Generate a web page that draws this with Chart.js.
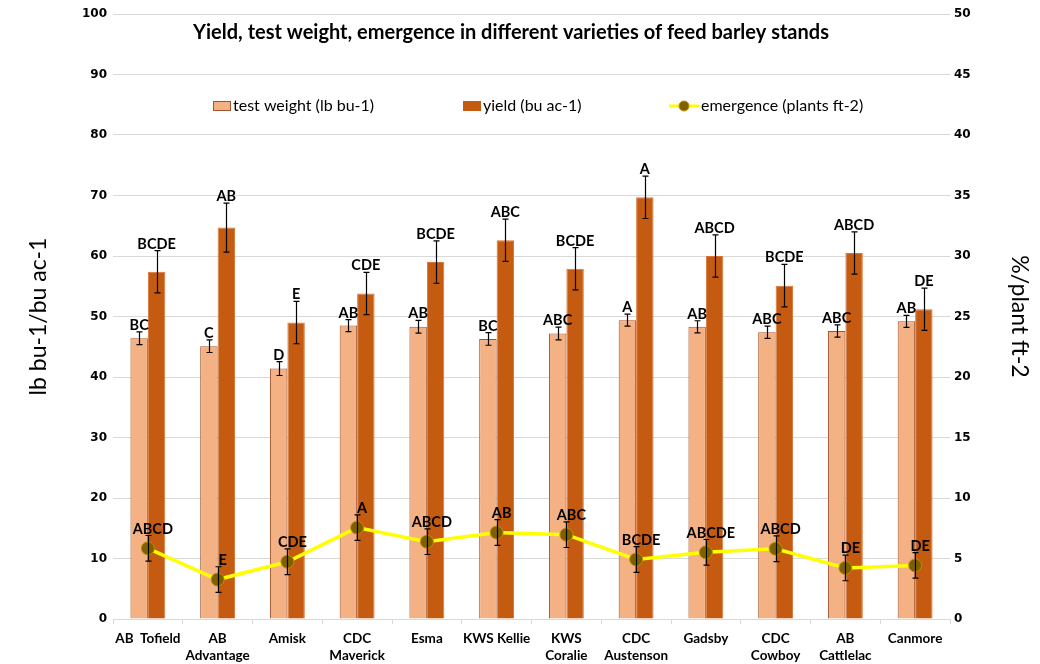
<!DOCTYPE html>
<html>
<head>
<meta charset="utf-8">
<script src="https://cdn.jsdelivr.net/npm/chart.js@4/dist/chart.umd.min.js"></script>
<style>
  html, body { margin: 0; padding: 0; background: #fff; }
  #wrap { width: 1040px; height: 664px; position: relative; }
</style>
</head>
<body>
<div id="wrap"><canvas id="c" width="1040" height="664"></canvas></div>
<script>
const categories = ['AB  Tofield', ['AB', 'Advantage'], 'Amisk', ['CDC', 'Maverick'], 'Esma', 'KWS Kellie', ['KWS', 'Coralie'], ['CDC', 'Austenson'], 'Gadsby', ['CDC', 'Cowboy'], ['AB', 'Cattlelac'], 'Canmore'];

const testWeight    = [46.4, 45.1, 41.4, 48.5, 48.3, 46.3, 47.2, 49.4, 48.3, 47.4, 47.6, 49.2];
const testWeightErr = [1.05, 1.05, 1.15, 1.0, 1.05, 1.05, 1.05, 1.0, 1.0, 1.0, 1.0, 1.0];
const testWeightLetters = ['BC', 'C', 'D', 'AB', 'AB', 'BC', 'ABC', 'A', 'AB', 'ABC', 'ABC', 'AB'];

const yieldVals   = [57.4, 64.7, 49.0, 53.8, 59.0, 62.6, 57.9, 69.7, 60.0, 55.1, 60.5, 51.2];
const yieldErr    = [3.5, 4.05, 3.5, 3.5, 3.5, 3.5, 3.5, 3.5, 3.5, 3.5, 3.5, 3.5];
const yieldLetters = ['BCDE', 'AB', 'E', 'CDE', 'BCDE', 'ABC', 'BCDE', 'A', 'ABCD', 'BCDE', 'ABCD', 'DE'];

const emergence    = [5.84, 3.26, 4.73, 7.55, 6.39, 7.15, 6.97, 4.92, 5.51, 5.81, 4.22, 4.43];
const emergenceErr = [1.06, 1.06, 1.06, 1.06, 1.06, 1.06, 1.06, 1.06, 1.06, 1.06, 1.06, 1.06];
const emergenceLetters = ['ABCD', 'E', 'CDE', 'A', 'ABCD', 'AB', 'ABC', 'BCDE', 'ABCDE', 'ABCD', 'DE', 'DE'];

const leftTicks = { min: 0, max: 100, step: 10 };
const rightTicks = { min: 0, max: 50, step: 5 };

const titleText = 'Yield, test weight, emergence in different varieties of feed barley stands';
const seriesNames = ['test weight (lb bu-1)', 'yield (bu ac-1)', 'emergence (plants ft-2)'];

const errs = [testWeightErr, yieldErr, emergenceErr];
const letters = [testWeightLetters, yieldLetters, emergenceLetters];

const FONT = 'Lato, "Open Sans", sans-serif';
const TICKFONT = '"DejaVu Sans", Verdana, sans-serif';

const overlay = {
  id: 'overlay',
  afterDatasetsDraw(chart) {
    const ctx = chart.ctx;
    ctx.save();
    chart.data.datasets.forEach((ds, di) => {
      const meta = chart.getDatasetMeta(di);
      const scale = chart.scales[ds.yAxisID];
      meta.data.forEach((el, i) => {
        const v = ds.data[i], e = errs[di][i];
        const x = Math.round(el.x) + 0.5;
        const yTop = scale.getPixelForValue(v + e);
        const yBot = scale.getPixelForValue(v - e);
        ctx.strokeStyle = '#000';
        ctx.lineWidth = 1.2;
        ctx.beginPath();
        ctx.moveTo(x, yTop); ctx.lineTo(x, yBot);
        ctx.moveTo(x - 3, yTop); ctx.lineTo(x + 3, yTop);
        ctx.moveTo(x - 3, yBot); ctx.lineTo(x + 3, yBot);
        ctx.stroke();
      });
    });
    ctx.fillStyle = '#000';
    ctx.font = 'bold 14.5px ' + FONT;
    ctx.textAlign = 'center';
    ctx.textBaseline = 'alphabetic';
    chart.data.datasets.forEach((ds, di) => {
      const meta = chart.getDatasetMeta(di);
      const scale = chart.scales[ds.yAxisID];
      meta.data.forEach((el, i) => {
        const v = ds.data[i], e = errs[di][i];
        const yTop = scale.getPixelForValue(v + e);
        const dx = di === 2 ? 5 : 0;
        ctx.fillText(letters[di][i], el.x + dx, yTop - 2);
      });
    });
    ctx.restore();
  },
  afterDraw(chart) {
    const ctx = chart.ctx;
    ctx.save();
    ctx.fillStyle = '#000';
    ctx.font = 'bold 20px ' + FONT;
    ctx.textAlign = 'center';
    ctx.textBaseline = 'middle';
    ctx.fillText(titleText, 511, 33);
    const ly = 106;
    ctx.font = '16px ' + FONT;
    ctx.textAlign = 'left';
    ctx.textBaseline = 'middle';
    ctx.fillStyle = '#F4B183';
    ctx.fillRect(213, ly - 5, 18, 10);
    ctx.strokeStyle = '#A0522D';
    ctx.lineWidth = 1;
    ctx.strokeRect(213.5, ly - 4.5, 17, 9);
    ctx.fillStyle = '#000';
    ctx.fillText(seriesNames[0], 233, ly);
    ctx.fillStyle = '#C55A11';
    ctx.fillRect(463, ly - 5, 18, 10);
    ctx.fillStyle = '#000';
    ctx.fillText(seriesNames[1], 483, ly);
    ctx.strokeStyle = '#FFFF00';
    ctx.lineWidth = 3;
    ctx.beginPath(); ctx.moveTo(669, ly); ctx.lineTo(699, ly); ctx.stroke();
    ctx.fillStyle = '#7F6000';
    ctx.strokeStyle = '#BF9000';
    ctx.lineWidth = 1;
    ctx.beginPath(); ctx.arc(684, ly, 5, 0, Math.PI * 2); ctx.fill(); ctx.stroke();
    ctx.fillStyle = '#000';
    ctx.fillText(seriesNames[2], 701, ly);
    ctx.restore();
  }
};

new Chart(document.getElementById('c'), {
  data: {
    labels: categories,
    datasets: [
      {
        type: 'bar', label: seriesNames[0], data: testWeight, yAxisID: 'y',
        backgroundColor: '#F4B183', borderColor: '#A0522D', borderWidth: 1,
        categoryPercentage: 0.5, barPercentage: 1.0, order: 2
      },
      {
        type: 'bar', label: seriesNames[1], data: yieldVals, yAxisID: 'y',
        backgroundColor: '#C55A11', borderColor: '#D87436', borderWidth: 1,
        categoryPercentage: 0.5, barPercentage: 1.0, order: 2
      },
      {
        type: 'line', label: seriesNames[2], data: emergence, yAxisID: 'y1',
        borderColor: '#FFFF00', borderWidth: 3.5, tension: 0,
        pointRadius: 6.5, pointBackgroundColor: '#7F6000', pointBorderColor: '#BF9000',
        pointBorderWidth: 1, order: 0
      }
    ]
  },
  options: {
    responsive: false,
    animation: false,
    layout: { padding: { left: 21, right: 3, top: 14, bottom: 0 } },
    plugins: { legend: { display: false }, title: { display: false }, tooltip: { enabled: false } },
    scales: {
      x: {
        grid: { offset: true, drawOnChartArea: false, drawTicks: true, tickLength: 5, color: '#d9d9d9' },
        border: { display: true, color: '#d9d9d9', width: 1 },
        ticks: {
          autoSkip: false, maxRotation: 0, minRotation: 0, padding: 6,
          color: '#000', font: { family: FONT, size: 13.5, weight: 'bold', lineHeight: 1.25 }
        },
        afterFit(s) { s.height = 45; }
      },
      y: {
        position: 'left',
        min: leftTicks.min, max: leftTicks.max,
        ticks: { stepSize: leftTicks.step, padding: 6, color: '#000',
          font: { family: TICKFONT, size: 12, weight: 'bold' } },
        grid: { color: '#d9d9d9', drawTicks: false, lineWidth: 1 },
        border: { display: false },
        title: { display: true, text: 'lb bu-1/bu ac-1', color: '#000',
          font: { family: FONT, size: 23 }, padding: { top: 4, bottom: 4 } },
        afterFit(s) { s.width = 92; }
      },
      y1: {
        position: 'right',
        min: rightTicks.min, max: rightTicks.max,
        ticks: { stepSize: rightTicks.step, padding: 4, color: '#000',
          font: { family: TICKFONT, size: 12, weight: 'bold' } },
        grid: { drawOnChartArea: false, drawTicks: false },
        border: { display: false },
        title: { display: true, text: '%/plant ft-2', color: '#000',
          font: { family: FONT, size: 23 }, padding: { top: 4, bottom: 4 } },
        afterFit(s) { s.width = 87; }
      }
    }
  },
  plugins: [overlay]
});
</script>
</body>
</html>
